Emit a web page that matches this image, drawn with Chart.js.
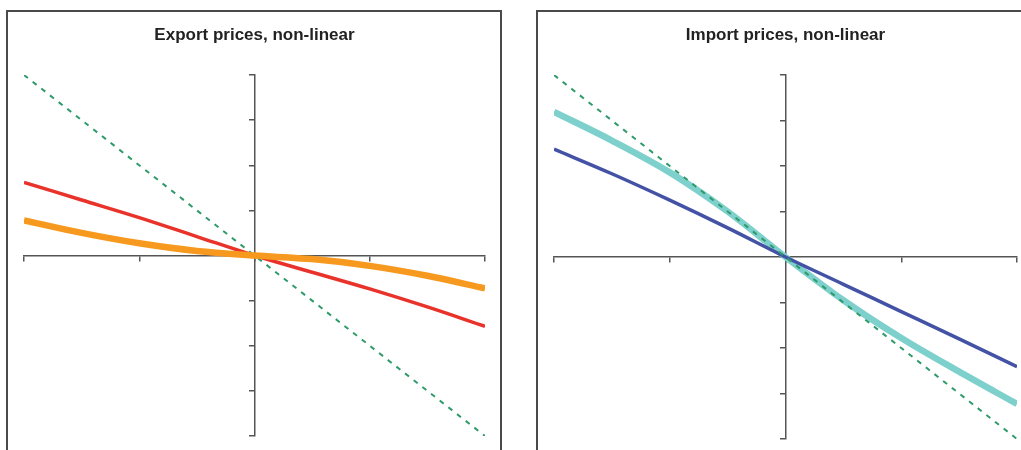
<!DOCTYPE html>
<html>
<head>
<meta charset="utf-8">
<script src="https://cdn.jsdelivr.net/npm/chart.js@4.4.1/dist/chart.umd.min.js"></script>
<style>
  html, body { margin: 0; padding: 0; background: #fff; overflow: hidden; }
  body { width: 1021px; height: 450px; position: relative; }
  .panel { position: absolute; top: 10px; height: 460px; border: 2px solid #4a4a4a; box-sizing: border-box; }
  #leftPanel { left: 6px; width: 496px; }
  #rightPanel { left: 536px; width: 500px; }
  canvas { position: absolute; top: 0; }
</style>
</head>
<body>
<div class="panel" id="leftPanel"></div>
<div class="panel" id="rightPanel"></div>
<canvas id="exportChart" width="494" height="440" style="left:7px; top:10px;"></canvas>
<canvas id="importChart" width="500" height="440" style="left:537px; top:10px;"></canvas>
<script>
// shock size on the x axis
const xValues = [-2, -1.5, -1, -0.5, 0, 0.5, 1, 1.5, 2];

// export prices
const exportFull = [4, 3, 2, 1, 0, -1, -2, -3, -4];
const exportLinear = [1.62, 1.23, 0.84, 0.42, 0, -0.37, -0.74, -1.14, -1.57];
const exportNonLinear = [0.78, 0.5, 0.27, 0.1, 0, -0.08, -0.23, -0.45, -0.73];

// import prices
const importFull = [4, 3, 2, 1, 0, -1, -2, -3, -4];
const importLinear = [2.37, 1.83, 1.25, 0.64, 0, -0.6, -1.2, -1.8, -2.41];
const importNonLinear = [3.19, 2.56, 1.86, 1.0, 0, -0.95, -1.78, -2.52, -3.23];

function points(values) {
  return xValues.map((x, i) => ({ x: x, y: values[i] }));
}

const axisColor = '#555555';

function makeChart(canvasId, title, datasets, padding) {
  return new Chart(document.getElementById(canvasId), {
    type: 'line',
    data: { datasets: datasets },
    options: {
      responsive: false,
      animation: false,
      layout: { padding: padding },
      plugins: {
        legend: { display: false },
        tooltip: { enabled: false },
        title: {
          display: true,
          text: title,
          color: '#222222',
          font: { family: 'Liberation Sans, Arial, sans-serif', size: 17, weight: 'bold' },
          padding: { top: 15, bottom: 29.6 }
        }
      },
      scales: {
        x: {
          type: 'linear',
          min: -2,
          max: 2,
          position: { y: 0 },
          ticks: { display: false, stepSize: 1 },
          grid: { drawOnChartArea: false, drawTicks: true, tickLength: 5, color: axisColor, lineWidth: 1.5 },
          border: { display: true, color: axisColor, width: 1.5 }
        },
        y: {
          type: 'linear',
          min: -4,
          max: 4,
          position: { x: 0 },
          ticks: { display: false, stepSize: 1 },
          grid: { drawOnChartArea: false, drawTicks: true, tickLength: 5, color: axisColor, lineWidth: 1.5 },
          border: { display: true, color: axisColor, width: 1.5 }
        }
      },
      elements: { point: { radius: 0 } }
    }
  });
}

makeChart('exportChart', 'Export prices, non-linear', [
  {
    data: points(exportNonLinear),
    borderColor: '#f7991f',
    borderWidth: 6.5,
    cubicInterpolationMode: 'monotone',
    fill: false
  },
  {
    data: points(exportLinear),
    borderColor: '#e8322a',
    borderWidth: 3.5,
    cubicInterpolationMode: 'monotone',
    fill: false
  },
  {
    data: points(exportFull),
    borderColor: '#2e9a6a',
    borderWidth: 2,
    borderDash: [5, 6],
    fill: false
  }
], { left: 17, right: 16, top: 0, bottom: 14 });

makeChart('importChart', 'Import prices, non-linear', [
  {
    data: points(importFull),
    borderColor: '#2e9a6a',
    borderWidth: 2,
    borderDash: [5, 6],
    fill: false
  },
  {
    data: points(importLinear),
    borderColor: '#4452a6',
    borderWidth: 3.5,
    cubicInterpolationMode: 'monotone',
    fill: false
  },
  {
    data: points(importNonLinear),
    borderColor: '#7dd0cc',
    borderWidth: 6.5,
    cubicInterpolationMode: 'monotone',
    fill: false
  }
], { left: 17, right: 20, top: 0, bottom: 11 });
</script>
</body>
</html>
